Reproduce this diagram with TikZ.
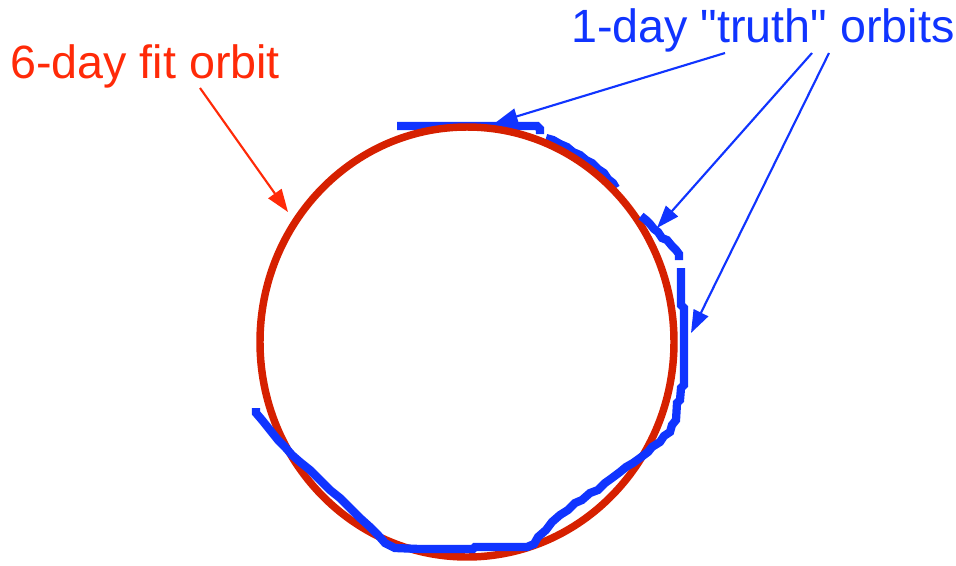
\documentclass[tikz,border=0pt]{standalone}
\usepackage{fontspec}
\newfontfamily\lblfont{Liberation Sans}
\usetikzlibrary{arrows.meta}
\definecolor{orbred}{RGB}{214,32,0}
\definecolor{txtred}{RGB}{255,42,8}
\definecolor{orbblue}{RGB}{16,52,255}
\tikzset{
  truthpath/.style={draw=orbblue, line width=6.2pt, line join=miter, line cap=butt},
  fitpath/.style={draw=orbred, line width=5.6pt},
  redarrow/.style={draw=txtred, line width=1.6pt, -{Triangle[length=17pt,width=12pt]}},
  bluearrow/.style={draw=orbblue, line width=1.6pt, -{Triangle[length=17pt,width=12pt]}},
  lbl/.style={inner sep=0pt, anchor=base west, font=\lblfont\fontsize{35}{40}\selectfont}
}
\begin{document}
\begin{tikzpicture}[x=0.75pt,y=-0.75pt]
\useasboundingbox (0,0) rectangle (956,565);
% labels
\node[lbl, text=txtred] (fitlbl) at (10,78) {6-day fit orbit};
\node[lbl, text=orbblue] (truthlbl) at (571,42) {1-day "truth" orbits};
% top truth pieces (under the fit orbit)
\path[truthpath] (397,126) -- (537,126) -- (540,129) -- (540,134);
\path[truthpath] (546,138) -- (553,140) -- (560,144) -- (567,147) -- (573,152)
  -- (580,155) -- (586,160) -- (592,163) -- (598,169) -- (604,173) -- (608,179)
  -- (613,183) -- (616,188);
% fit orbit
\path[fitpath] (467,342) ellipse [x radius=207, y radius=215];
% truth pieces above the fit orbit
\path[truthpath] (641,216) -- (646,220) -- (650,224) -- (654,229) -- (658,232)
  -- (662,238) -- (667,240) -- (672,246) -- (676,250) -- (679,254) -- (679,260);
\path[truthpath] (681,268) -- (681,305) -- (684,308) -- (684,385) -- (681,388)
  -- (680,400) -- (677,403) -- (676,420) -- (672,425) -- (670,432) -- (664,436)
  -- (660,442) -- (652,447) -- (648,452) -- (640,458) -- (633,463) -- (626,467)
  -- (620,472) -- (612,478) -- (605,483) -- (598,490) -- (590,493) -- (582,500)
  -- (575,503) -- (568,510) -- (560,515) -- (552,522) -- (546,530) -- (538,537)
  -- (534,544) -- (527,547) -- (475,547) -- (473,549) -- (420,549) -- (395,548)
  -- (385,543) -- (378,535) -- (370,527) -- (360,518) -- (350,508) -- (340,498)
  -- (330,490) -- (320,480) -- (310,470) -- (300,462) -- (292,455) -- (285,447)
  -- (278,440) -- (270,430) -- (262,420) -- (256,413) -- (256,408);
% arrow end points
\coordinate (fitfrom) at (200,88);
\coordinate (fitto) at (288,212);
\coordinate (tfromA) at (725,53);
\coordinate (tfromB) at (812,53);
\coordinate (tfromC) at (829,53);
\coordinate (ttoA) at (495,123);
\coordinate (ttoB) at (657,228);
\coordinate (ttoC) at (691,333);
\draw[redarrow] (fitfrom) -- (fitto);
\draw[bluearrow] (tfromA) -- (ttoA);
\draw[bluearrow] (tfromB) -- (ttoB);
\draw[bluearrow] (tfromC) -- (ttoC);
\end{tikzpicture}
\end{document}
